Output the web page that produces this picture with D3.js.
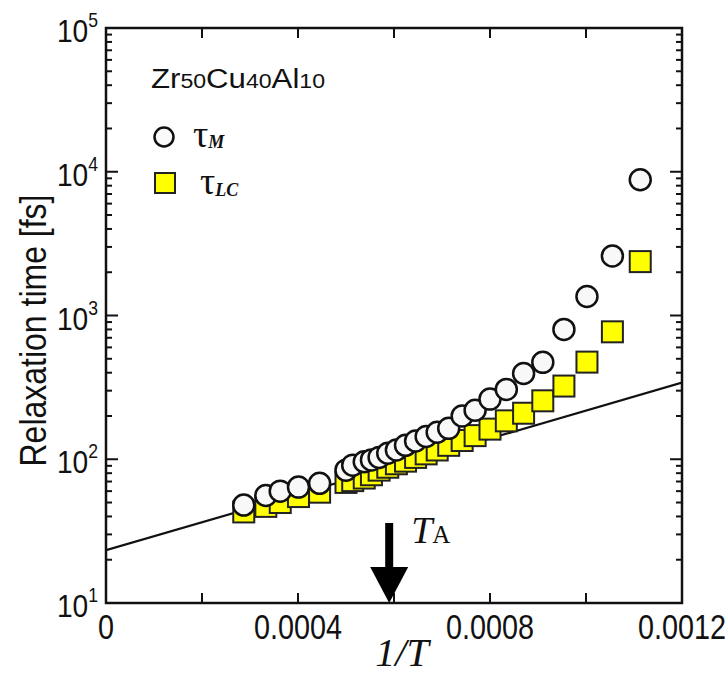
<!DOCTYPE html>
<html>
<head>
<meta charset="utf-8">
<script src="https://cdn.jsdelivr.net/npm/d3@7"></script>
<style>
  body { margin: 0; background: #fff; }
  svg { display: block; }
</style>
</head>
<body>
<svg id="chart" width="728" height="677"></svg>
<script>
// values
var invT = [0.000287, 0.000333, 0.000363, 0.000401, 0.000445, 0.000500, 0.000514, 0.000538, 0.000553, 0.000569,
            0.000587, 0.000605, 0.000624, 0.000645, 0.000667, 0.000690, 0.000714, 0.000742, 0.000769, 0.000800,
            0.000834, 0.000870, 0.000910, 0.000954, 0.001002, 0.001055, 0.001113];
var tauM = [48, 56, 60, 64, 68, 84, 91, 96, 99, 103,
            110, 116, 125, 134, 144, 154, 164, 200, 219, 262,
            306, 395, 472, 800, 1355, 2594, 8790];
var tauLC = [43, 47, 50, 55, 59, 69, 71, 74, 78, 84,
             88, 93, 97, 103, 109, 116, 125, 135, 146, 162,
             185, 209, 255, 323, 474, 770, 2371];
var fitLine = [{x: 0, y: 23.3}, {x: 0.0012, y: 341}];
var xTickLabels = ["0", "0.0004", "0.0008", "0.0012"];
var yDecades = [1, 2, 3, 4, 5];
var arrowX = 0.00059;

var svg = d3.select("#chart");
var margin = { top: 28, bottom: 74, left: 106, right: 46 };
var width = 728, height = 677;
var innerW = width - margin.left - margin.right;
var innerH = height - margin.top - margin.bottom;

var x = d3.scaleLinear().domain([0, 0.0012]).range([margin.left, margin.left + innerW]);
var y = d3.scaleLog().domain([10, 1e5]).range([margin.top + innerH, margin.top]);

var sans = "'Liberation Sans', Arial, sans-serif";
var serif = "'Liberation Serif', 'Times New Roman', serif";

// fit line (clipped to plot)
svg.append("clipPath").attr("id", "clip")
  .append("rect").attr("x", margin.left).attr("y", margin.top).attr("width", innerW).attr("height", innerH);

var line = d3.line().x(d => x(d.x)).y(d => y(d.y));
svg.append("path")
  .datum(fitLine)
  .attr("clip-path", "url(#clip)")
  .attr("fill", "none")
  .attr("stroke", "#111")
  .attr("stroke-width", 2.2)
  .attr("d", line);

// ticks: x every 0.0002, inward on bottom and top
var xTicks = d3.range(0, 0.00121, 0.0002);
var tickG = svg.append("g").attr("stroke", "#111").attr("stroke-width", 2);
xTicks.forEach(function(t) {
  tickG.append("line").attr("x1", x(t)).attr("x2", x(t))
    .attr("y1", margin.top + innerH).attr("y2", margin.top + innerH - 10);
  tickG.append("line").attr("x1", x(t)).attr("x2", x(t))
    .attr("y1", margin.top).attr("y2", margin.top + 10);
});

// y ticks: decades long, 2..9 short
for (var e = 1; e <= 4; e++) {
  for (var m = 1; m <= 9; m++) {
    var v = m * Math.pow(10, e);
    var len = m === 1 ? 12 : 6;
    tickG.append("line").attr("x1", margin.left).attr("x2", margin.left + len)
      .attr("y1", y(v)).attr("y2", y(v));
    tickG.append("line").attr("x1", margin.left + innerW).attr("x2", margin.left + innerW - len)
      .attr("y1", y(v)).attr("y2", y(v));
  }
}

// frame
svg.append("rect")
  .attr("x", margin.left).attr("y", margin.top)
  .attr("width", innerW).attr("height", innerH)
  .attr("fill", "none").attr("stroke", "#111").attr("stroke-width", 2.5);

// x tick labels (narrow, tall digits like the original)
svg.append("g").selectAll("text")
  .data(xTickLabels)
  .enter().append("text")
  .attr("transform", d => "translate(" + x(+d) + "," + (margin.top + innerH + 36) + ") scale(0.8,1)")
  .attr("text-anchor", "middle")
  .style("font-family", sans)
  .style("font-size", "36px")
  .attr("fill", "#111")
  .text(d => d);

// y tick labels 10^n
yDecades.forEach(function(n) {
  var t = svg.append("text")
    .attr("transform", "translate(" + (margin.left - 8) + "," + (y(Math.pow(10, n)) + 14) + ") scale(0.88,1)")
    .attr("text-anchor", "end")
    .style("font-family", sans)
    .style("font-size", "32px")
    .attr("fill", "#111");
  t.append("tspan").text("10");
  t.append("tspan").attr("dy", -15).style("font-size", "20px").text(n);
});

// axis titles
svg.append("text")
  .attr("transform", "translate(46," + (margin.top + innerH / 2 + 15) + ") rotate(-90)")
  .attr("text-anchor", "middle")
  .attr("textLength", 272)
  .attr("lengthAdjust", "spacingAndGlyphs")
  .style("font-family", sans)
  .style("font-size", "37px")
  .attr("fill", "#111")
  .text("Relaxation time  [fs]");

svg.append("text")
  .attr("x", x(0.0006) + 8)
  .attr("y", 666)
  .attr("text-anchor", "middle")
  .style("font-family", serif)
  .style("font-style", "italic")
  .style("font-size", "40px")
  .attr("fill", "#111")
  .text("1/T");

// T_A arrow
var ax = x(arrowX);
var yb = margin.top + innerH;
svg.append("rect").attr("x", ax - 4).attr("y", yb - 80).attr("width", 8).attr("height", 46).attr("fill", "#000");
svg.append("path")
  .attr("d", "M" + (ax - 19) + "," + (yb - 36) + "L" + (ax + 19) + "," + (yb - 36) + "L" + ax + "," + yb + "Z")
  .attr("fill", "#000");
var ta = svg.append("text")
  .attr("x", ax + 22).attr("y", yb - 60)
  .style("font-family", serif).attr("fill", "#111");
ta.append("tspan").style("font-style", "italic").style("font-size", "38px").text("T");
ta.append("tspan").style("font-size", "25px").text("A");

// data: squares under circles
var sq = 21;
svg.append("g").selectAll("rect")
  .data(invT)
  .enter().append("rect")
  .attr("x", (d, i) => x(d) - sq / 2)
  .attr("y", (d, i) => y(tauLC[i]) - sq / 2)
  .attr("width", sq).attr("height", sq)
  .attr("fill", "#ffff00")
  .attr("stroke", "#222")
  .attr("stroke-width", 2);

svg.append("g").selectAll("circle")
  .data(invT)
  .enter().append("circle")
  .attr("cx", d => x(d))
  .attr("cy", (d, i) => y(tauM[i]))
  .attr("r", 10.5)
  .attr("fill", "#f8f8f8")
  .attr("stroke", "#111")
  .attr("stroke-width", 2.5);

// legend
var comp = svg.append("text").attr("x", 151).attr("y", 88)
  .attr("textLength", 174).attr("lengthAdjust", "spacingAndGlyphs")
  .style("font-family", sans).style("font-size", "27px").attr("fill", "#111");
[["Zr", 27], ["50", 20], ["Cu", 27], ["40", 20], ["Al", 27], ["10", 20]].forEach(function(p) {
  comp.append("tspan").style("font-size", p[1] + "px").text(p[0]);
});

svg.append("circle").attr("cx", 164).attr("cy", 137).attr("r", 9.5)
  .attr("fill", "#fafafa").attr("stroke", "#111").attr("stroke-width", 2.5);
var l1 = svg.append("text").attr("x", 193).attr("y", 147).style("font-family", serif).attr("fill", "#111");
l1.append("tspan").style("font-size", "38px").text("τ");
l1.append("tspan").attr("dy", 1).style("font-size", "18px").style("font-style", "italic").style("font-weight", "bold").text("M");

svg.append("rect").attr("x", 155).attr("y", 173).attr("width", 20).attr("height", 20)
  .attr("fill", "#ffff00").attr("stroke", "#222").attr("stroke-width", 2);
var l2 = svg.append("text").attr("x", 200).attr("y", 194).style("font-family", serif).attr("fill", "#111");
l2.append("tspan").style("font-size", "38px").text("τ");
l2.append("tspan").attr("dy", 2).style("font-size", "18px").style("font-style", "italic").style("font-weight", "bold").text("LC");
</script>
</body>
</html>
